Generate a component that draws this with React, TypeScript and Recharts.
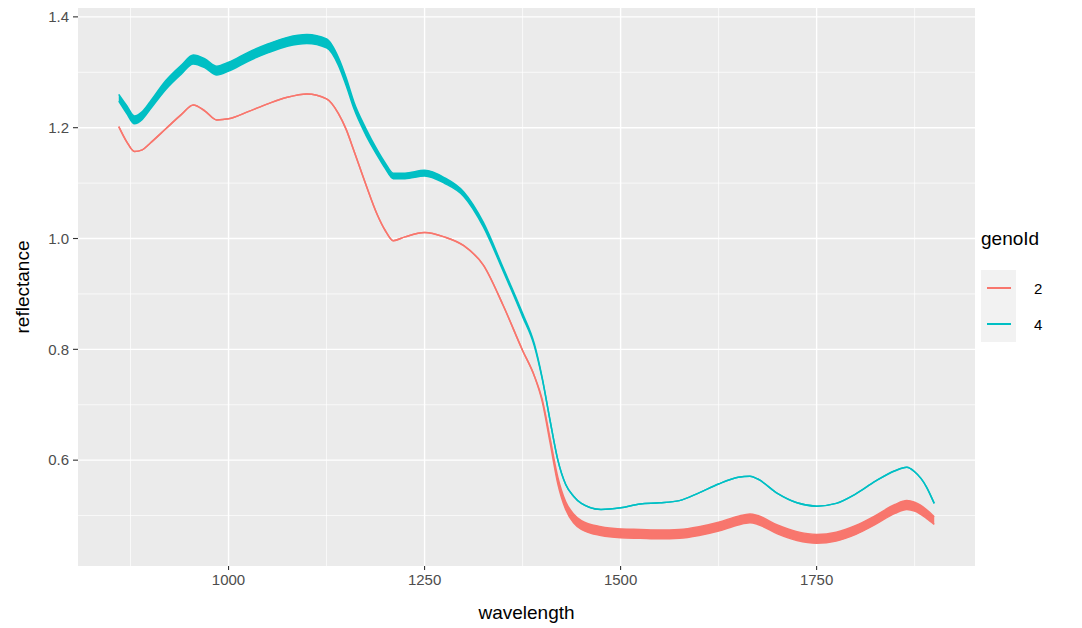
import React from 'react';
import { ComposedChart, Area, XAxis, YAxis, CartesianGrid, Label } from 'recharts';

const wavelength = [860, 870, 880, 890, 900, 920, 940, 955, 970, 985, 1000, 1025, 1050, 1075, 1100, 1125, 1140, 1150, 1160, 1175, 1190, 1200, 1210, 1225, 1250, 1275, 1300, 1325, 1350, 1375, 1390, 1400, 1410, 1420, 1430, 1440, 1450, 1475, 1500, 1525, 1550, 1575, 1600, 1625, 1650, 1665, 1675, 1700, 1725, 1750, 1775, 1800, 1825, 1850, 1865, 1875, 1890, 1900];

const genoId2 = [1.202, 1.175, 1.157, 1.160, 1.172, 1.198, 1.224, 1.241, 1.230, 1.214, 1.216, 1.229, 1.243, 1.255, 1.261, 1.252, 1.226, 1.197, 1.158, 1.098, 1.042, 1.014, 0.996, 1.003, 1.011, 1.003, 0.987, 0.952, 0.880, 0.798, 0.752, 0.708, 0.636, 0.563, 0.518, 0.495, 0.483, 0.472, 0.468, 0.467, 0.466, 0.467, 0.472, 0.480, 0.491, 0.495, 0.492, 0.475, 0.463, 0.458, 0.462, 0.474, 0.492, 0.512, 0.519, 0.516, 0.503, 0.491];
const genoId2Spread = [0, 0, 0, 0, 0, 0, 0, 0, 0, 0, 0, 0, 0, 0, 0, 0, 0, 0, 0, 0, 0, 0, 0, 0, 0, 0, 0, 0, 0, 0, 0, 0.002, 0.004, 0.006, 0.007, 0.008, 0.008, 0.008, 0.008, 0.008, 0.008, 0.008, 0.008, 0.008, 0.008, 0.008, 0.008, 0.008, 0.008, 0.008, 0.008, 0.008, 0.008, 0.008, 0.008, 0.008, 0.008, 0.007];

const genoId4 = [1.254, 1.233, 1.214, 1.222, 1.240, 1.277, 1.305, 1.323, 1.316, 1.303, 1.310, 1.328, 1.343, 1.355, 1.360, 1.352, 1.320, 1.283, 1.240, 1.193, 1.154, 1.131, 1.113, 1.113, 1.118, 1.105, 1.080, 1.025, 0.945, 0.862, 0.808, 0.748, 0.672, 0.600, 0.556, 0.535, 0.522, 0.511, 0.514, 0.521, 0.523, 0.527, 0.541, 0.557, 0.569, 0.571, 0.566, 0.540, 0.523, 0.517, 0.522, 0.539, 0.562, 0.581, 0.587, 0.579, 0.552, 0.522];
const genoId4Spread = [0.006, 0.007, 0.007, 0.007, 0.007, 0.008, 0.008, 0.008, 0.008, 0.008, 0.008, 0.008, 0.008, 0.008, 0.008, 0.008, 0.007, 0.007, 0.006, 0.006, 0.005, 0.005, 0.005, 0.005, 0.005, 0.005, 0.004, 0.004, 0.003, 0.003, 0.002, 0.001, 0, 0, 0, 0, 0, 0, 0, 0, 0, 0, 0, 0, 0, 0, 0, 0, 0, 0, 0, 0, 0, 0, 0, 0, 0, 0];

const xTicks = [1000, 1250, 1500, 1750];
const xMinor = [875, 1125, 1375, 1625, 1875];
const yTicks = [0.6, 0.8, 1.0, 1.2, 1.4];
const yMinor = [0.5, 0.7, 0.9, 1.1, 1.3];

const series = [
  { key: 'g2', name: '2', color: '#F8766D' },
  { key: 'g4', name: '4', color: '#00BFC4' },
];

const data = wavelength.map((w, i) => ({
  w,
  g2: [genoId2[i] - genoId2Spread[i], genoId2[i] + genoId2Spread[i]],
  g4: [genoId4[i] - genoId4Spread[i], genoId4[i] + genoId4Spread[i]],
}));

const FONT = '"Liberation Sans", Arial, sans-serif';

export default function App() {
  return (
    <div style={{ position: 'absolute', left: 0, top: 0, width: 1082, height: 628, background: '#fff', fontFamily: FONT }}>
      <ComposedChart width={1082} height={628} data={data} margin={{ top: 8, right: 107, bottom: 0, left: 0 }}>
        <CartesianGrid fill="#EBEBEB" stroke="#FFFFFF" strokeWidth={1.4} horizontalValues={yTicks} verticalValues={xTicks} />
        <CartesianGrid fill="none" stroke="#FFFFFF" strokeWidth={0.7} horizontalValues={yMinor} verticalValues={xMinor} />
        <XAxis
          dataKey="w"
          type="number"
          domain={[808, 1952]}
          ticks={xTicks}
          height={62}
          axisLine={false}
          tickLine={{ stroke: '#333333', strokeWidth: 1.1 }}
          tickSize={4}
          tickMargin={4}
          tick={{ fill: '#4D4D4D', fontSize: 15, fontFamily: FONT }}
        >
          <Label value="wavelength" position="insideBottom" offset={9} style={{ fill: '#000', fontSize: 19, fontFamily: FONT }} />
        </XAxis>
        <YAxis
          type="number"
          domain={[0.409, 1.416]}
          ticks={yTicks}
          width={78}
          axisLine={false}
          tickLine={{ stroke: '#333333', strokeWidth: 1.1 }}
          tickSize={5}
          tickMargin={4}
          tickFormatter={(v: number) => v.toFixed(1)}
          tick={{ fill: '#4D4D4D', fontSize: 15, fontFamily: FONT }}
        >
          <Label value="reflectance" angle={-90} position="insideLeft" offset={22} style={{ fill: '#000', fontSize: 19, fontFamily: FONT, textAnchor: 'middle' }} />
        </YAxis>
        {series.map((s) => (
          <Area
            key={s.key}
            dataKey={s.key}
            type="monotone"
            stroke={s.color}
            strokeWidth={1.5}
            fill={s.color}
            fillOpacity={1}
            dot={false}
            activeDot={false}
            isAnimationActive={false}
          />
        ))}
      </ComposedChart>
      <div style={{ position: 'absolute', left: 981, top: 227, fontFamily: FONT }}>
        <div style={{ fontSize: 19, color: '#000', lineHeight: '24px', height: 43 }}>genoId</div>
        {series.map((s) => (
          <div key={s.key} style={{ display: 'flex', alignItems: 'center', height: 36 }}>
            <div style={{ width: 35, height: 36, background: '#F2F2F2', display: 'flex', alignItems: 'center', justifyContent: 'center' }}>
              <div style={{ width: 24, height: 2, background: s.color }} />
            </div>
            <div style={{ marginLeft: 18, fontSize: 15, color: '#000' }}>{s.name}</div>
          </div>
        ))}
      </div>
    </div>
  );
}
